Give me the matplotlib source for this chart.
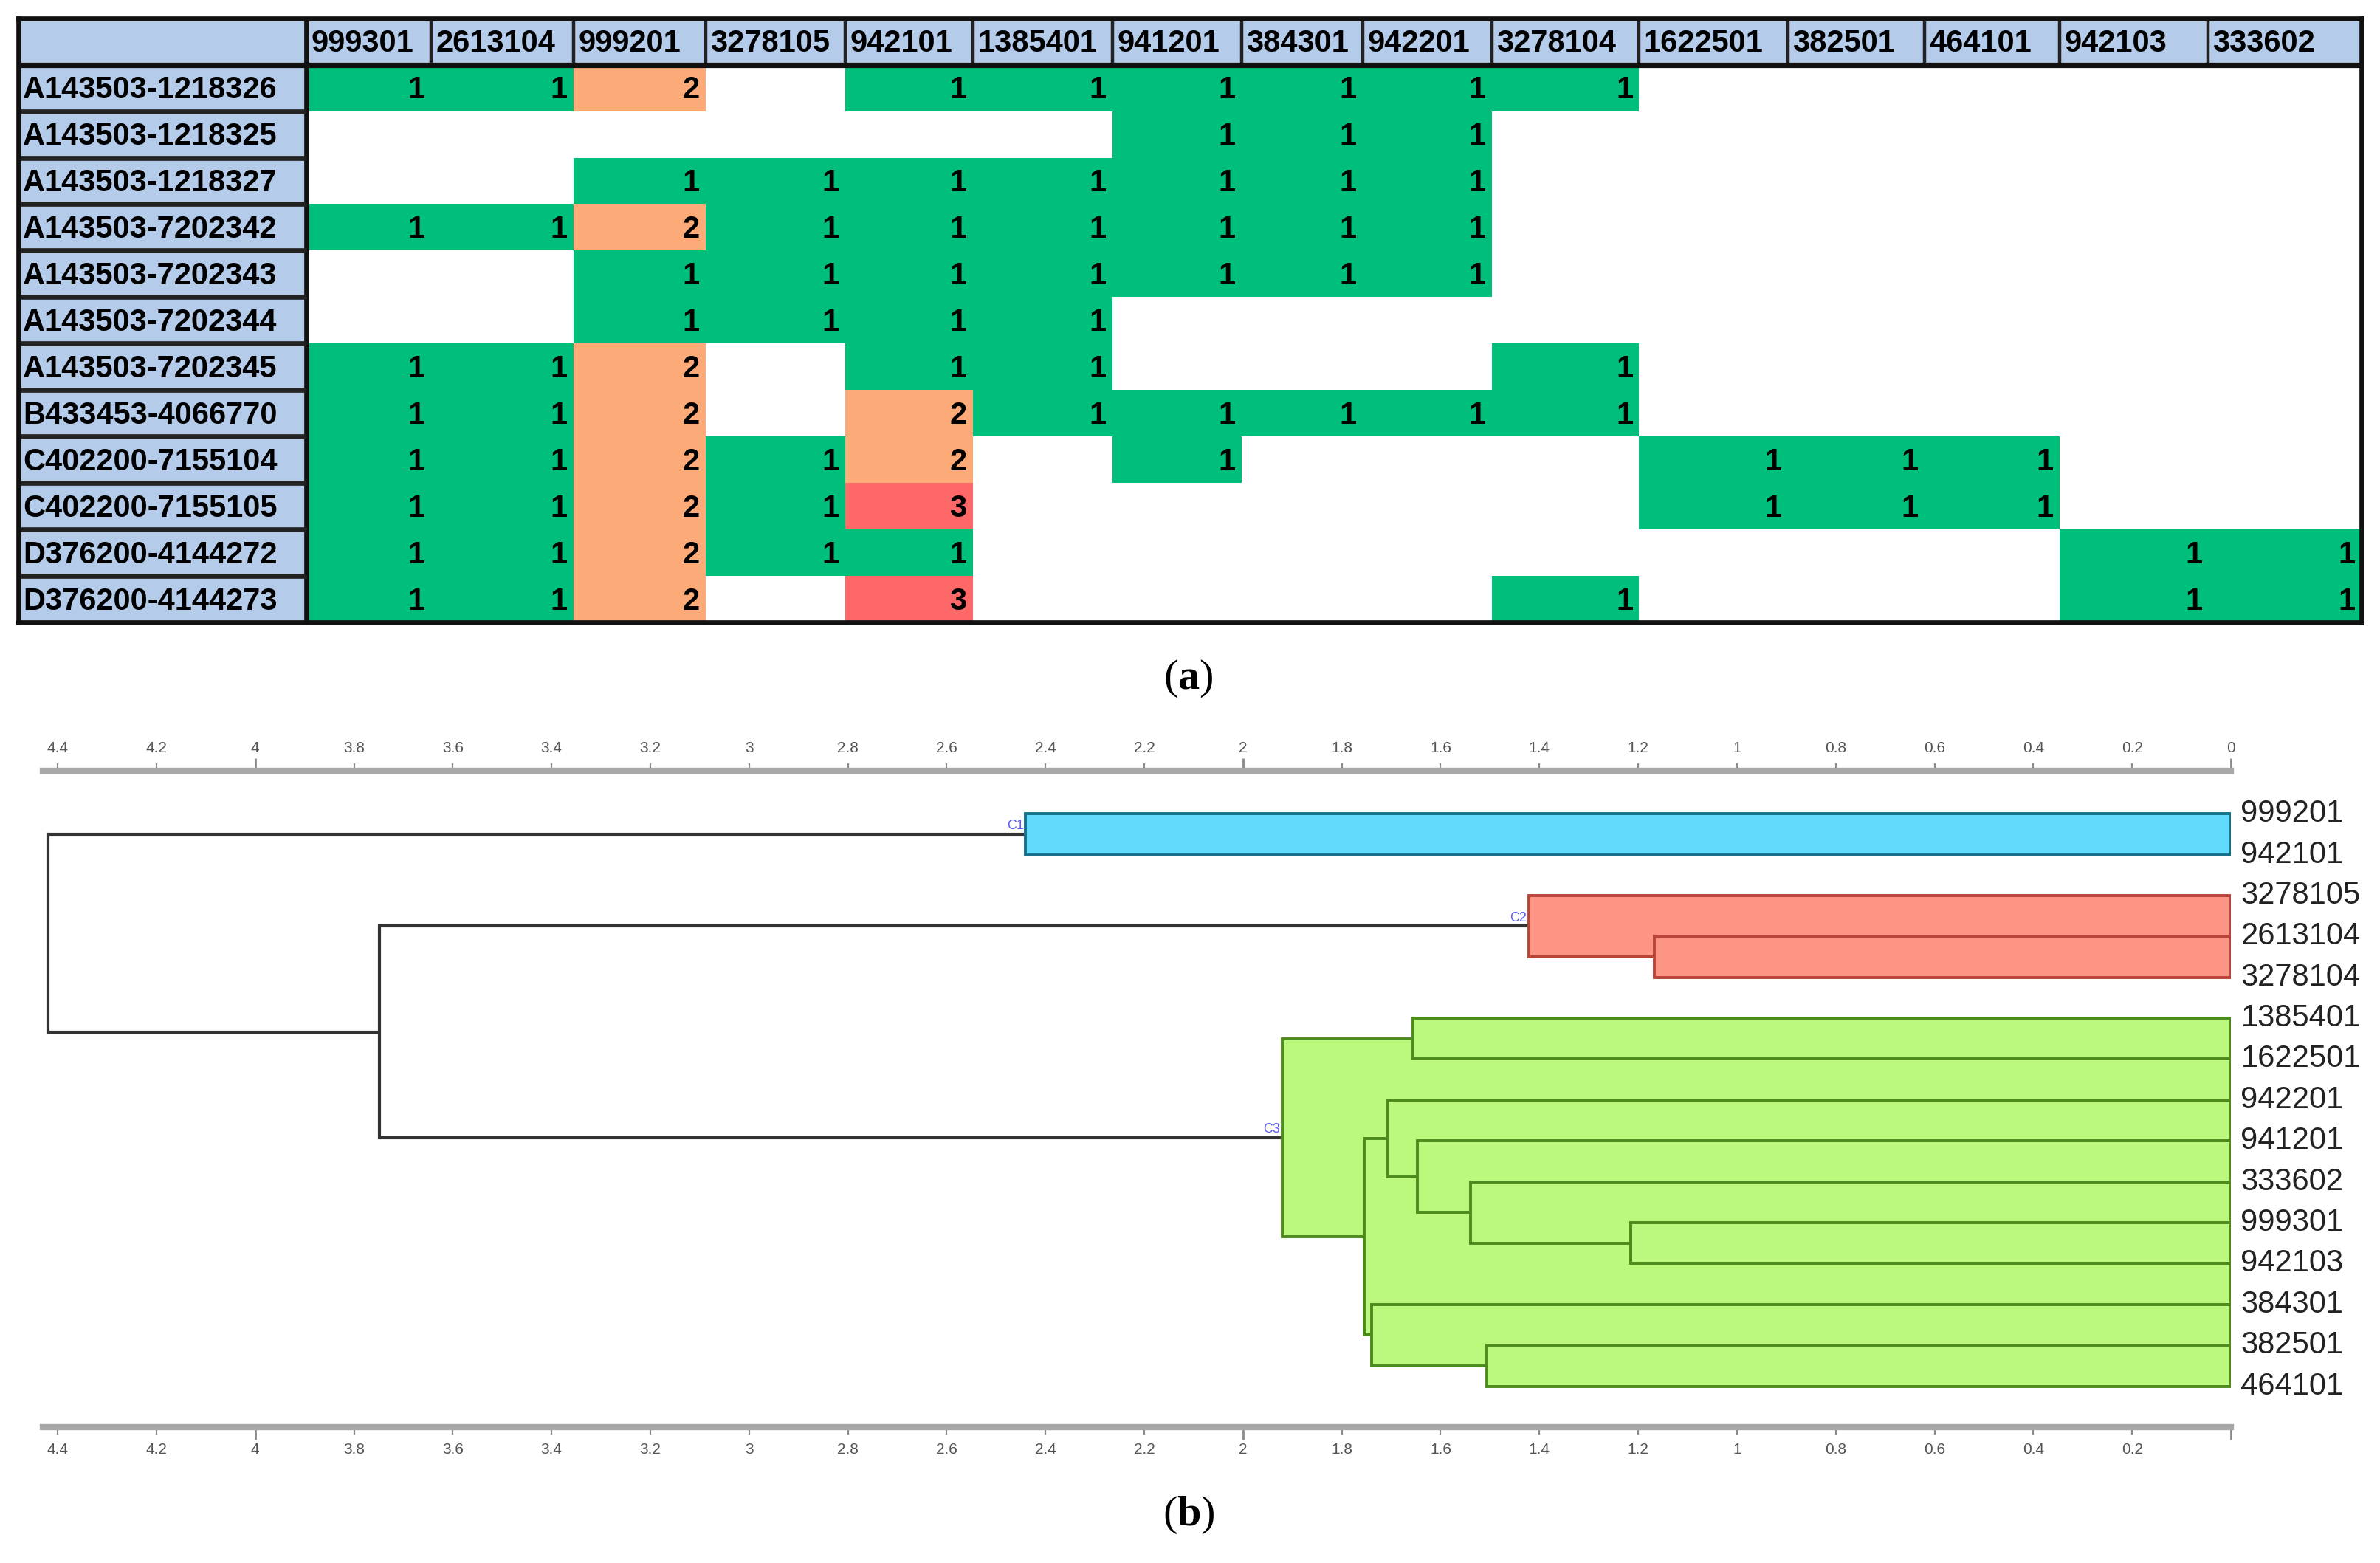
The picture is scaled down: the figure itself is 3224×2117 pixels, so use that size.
import numpy as np
import matplotlib
matplotlib.use('Agg')
import matplotlib.pyplot as plt
from matplotlib.colors import ListedColormap, BoundaryNorm
from matplotlib.patches import Rectangle

plt.rcParams['font.family'] = ['Liberation Sans', 'DejaVu Sans']
plt.rcParams['mathtext.fontset'] = 'custom'
plt.rcParams['mathtext.rm'] = 'Liberation Serif'
plt.rcParams['mathtext.bf'] = 'Liberation Serif:bold'

# ---- datos de la tabla (a) ----
columnas = ['999301', '2613104', '999201', '3278105', '942101', '1385401', '941201',
            '384301', '942201', '3278104', '1622501', '382501', '464101', '942103', '333602']
filas = ['A143503-1218326', 'A143503-1218325', 'A143503-1218327', 'A143503-7202342',
         'A143503-7202343', 'A143503-7202344', 'A143503-7202345', 'B433453-4066770',
         'C402200-7155104', 'C402200-7155105', 'D376200-4144272', 'D376200-4144273']
# 0 = celda vacia
valores = np.array([
    [1, 1, 2, 0, 1, 1, 1, 1, 1, 1, 0, 0, 0, 0, 0],
    [0, 0, 0, 0, 0, 0, 1, 1, 1, 0, 0, 0, 0, 0, 0],
    [0, 0, 1, 1, 1, 1, 1, 1, 1, 0, 0, 0, 0, 0, 0],
    [1, 1, 2, 1, 1, 1, 1, 1, 1, 0, 0, 0, 0, 0, 0],
    [0, 0, 1, 1, 1, 1, 1, 1, 1, 0, 0, 0, 0, 0, 0],
    [0, 0, 1, 1, 1, 1, 0, 0, 0, 0, 0, 0, 0, 0, 0],
    [1, 1, 2, 0, 1, 1, 0, 0, 0, 1, 0, 0, 0, 0, 0],
    [1, 1, 2, 0, 2, 1, 1, 1, 1, 1, 0, 0, 0, 0, 0],
    [1, 1, 2, 1, 2, 0, 1, 0, 0, 0, 1, 1, 1, 0, 0],
    [1, 1, 2, 1, 3, 0, 0, 0, 0, 0, 1, 1, 1, 0, 0],
    [1, 1, 2, 1, 1, 0, 0, 0, 0, 0, 0, 0, 0, 1, 1],
    [1, 1, 2, 0, 3, 0, 0, 0, 0, 1, 0, 0, 0, 1, 1],
])

# ---- datos del dendrograma (b) ----
hojas = ['999201', '942101', '3278105', '2613104', '3278104', '1385401', '1622501',
         '942201', '941201', '333602', '999301', '942103', '384301', '382501', '464101']
# (hijo_a, hijo_b, distancia, cluster); hijos: nombre de hoja o 'n<k>' (union previa)
uniones = [
    ('999201', '942101', 2.44, 'C1'),    # n0
    ('2613104', '3278104', 1.167, 'C2'),  # n1
    ('3278105', 'n1', 1.422, 'C2'),       # n2
    ('1385401', '1622501', 1.656, 'C3'),  # n3
    ('999301', '942103', 1.215, 'C3'),    # n4
    ('333602', 'n4', 1.539, 'C3'),        # n5
    ('941201', 'n5', 1.647, 'C3'),        # n6
    ('942201', 'n6', 1.708, 'C3'),        # n7
    ('382501', '464101', 1.506, 'C3'),    # n8
    ('384301', 'n8', 1.739, 'C3'),        # n9
    ('n7', 'n9', 1.754, 'C3'),            # n10
    ('n3', 'n10', 1.921, 'C3'),           # n11
    ('n2', 'n11', 3.748, None),           # n12
    ('n0', 'n12', 4.42, None),            # n13
]
etiquetas_cluster = {'C1': 0, 'C2': 2, 'C3': 11}  # union donde se pone la etiqueta

# ---- estilos ----
col_w = [190, 82, 94, 87, 92, 84, 92, 85, 80, 85, 97, 98, 90, 89, 98, 101]
verde, naranja, rojo, azul_cab = '#00bf7a', '#fcab78', '#ff6868', '#b4cbea'
relleno = {'C1': '#62dafc', 'C2': '#fd9585', 'C3': '#bdf87e'}
borde = {'C1': '#17708a', 'C2': '#b8443a', 'C3': '#4c8a1c'}

W, H = 3224, 2117
fig = plt.figure(figsize=(W / 200, H / 200), dpi=200)

# ================= (a) tabla =================
ax = fig.add_axes([24.7 / W, 1 - 843 / H, (3199 - 24.7) / W, (843 - 24.7) / H])
bordes_x = np.concatenate([[0], np.cumsum(col_w)])
ax.axhspan(0, 1, color=azul_cab, zorder=0)
ax.axvspan(0, col_w[0], color=azul_cab, zorder=0)
cmap = ListedColormap(['white', verde, naranja, rojo])
norm = BoundaryNorm([-0.5, 0.5, 1.5, 2.5, 3.5], cmap.N)
ax.pcolormesh(bordes_x[1:], np.arange(1, len(filas) + 2), valores, cmap=cmap, norm=norm, zorder=1)

tam = 15
for j, c in enumerate(columnas):
    ax.text(bordes_x[j + 1] + 3, 0.55, c, ha='left', va='center', fontsize=tam,
            fontweight='bold', zorder=3)
for i, f in enumerate(filas):
    ax.text(3, i + 1.55, f, ha='left', va='center', fontsize=tam, fontweight='bold', zorder=3)
    for j in range(len(columnas)):
        if valores[i, j] > 0:
            ax.text(bordes_x[j + 2] - 4, i + 1.55, str(valores[i, j]), ha='right', va='center',
                    fontsize=tam, fontweight='bold', zorder=3)

ax.vlines(bordes_x[1:-1], 0, 1, color='#222222', lw=1.6, zorder=2)
ax.vlines(bordes_x[1], 0, len(filas) + 1, color='#111111', lw=2.4, zorder=2)
ax.hlines(np.arange(1, len(filas) + 1), 0, col_w[0], color='#222222', lw=2.4, zorder=2)
ax.hlines(1, 0, bordes_x[-1], color='#111111', lw=2.6, zorder=2)
ax.set_xlim(0, bordes_x[-1])
ax.set_ylim(len(filas) + 1, 0)
ax.set_xticks([])
ax.set_yticks([])
for s in ax.spines.values():
    s.set_linewidth(2.4)
    s.set_color('#111111')

fig.text(0.4994, 1 - 919 / H, r'($\mathbf{a}$)', ha='center', va='center', fontsize=21,
         family='Liberation Serif')

# ================= (b) dendrograma =================
ad = fig.add_axes([58 / W, 1 - 1933 / H, (3022 - 58) / W, (1933 - 1044) / H])
pos_y = {h: i for i, h in enumerate(hojas)}
alt = {h: 0.0 for h in hojas}
for k, (a, b, d, cl) in enumerate(uniones):
    nombre = 'n%d' % k
    pos_y[nombre] = (pos_y[a] + pos_y[b]) / 2
    alt[nombre] = d

# de arriba hacia abajo para que los hijos queden encima
for k in range(len(uniones) - 1, -1, -1):
    a, b, d, cl = uniones[k]
    ya, yb = pos_y[a], pos_y[b]
    if cl is None:
        for hijo in (a, b):
            ad.plot([alt[hijo], d], [pos_y[hijo], pos_y[hijo]], color='#333333', lw=1.5,
                    solid_capstyle='butt', zorder=2)
        ad.plot([d, d], [ya, yb], color='#333333', lw=1.5, zorder=2)
    else:
        ad.add_patch(Rectangle((0, min(ya, yb)), d, abs(yb - ya), facecolor=relleno[cl],
                               edgecolor=borde[cl], lw=1.4, zorder=3 + (len(uniones) - k) * 0.01))

for cl, k in etiquetas_cluster.items():
    a, b, d, _ = uniones[k]
    ad.text(d + 0.004, pos_y['n%d' % k] - 0.05, cl, ha='right', va='bottom', fontsize=6.5,
            color='#5a5aff', zorder=5)

for h in hojas:
    ad.text(-0.02, pos_y[h], h, ha='left', va='center', fontsize=15, color='#222222',
            clip_on=False)

ad.set_xlim(4.43, 0)
ad.set_ylim(len(hojas) - 1 + 1.0, -1.05)
mayores = [0, 2, 4]
menores = [round(v, 1) for v in np.arange(0.2, 4.41, 0.2) if round(v, 1) not in (2.0, 4.0)]
fmt = lambda v: ('%g' % v)
ad.set_xticks(mayores)
ad.set_xticklabels([fmt(v) for v in mayores])
ad.set_xticks(menores, minor=True)
ad.set_xticklabels([fmt(v) for v in menores], minor=True)
ad.set_yticks([])
ad.tick_params(axis='x', which='both', top=True, bottom=True, labeltop=True, labelbottom=True,
               colors='#8a8a8a', labelcolor='#555555', labelsize=7.5)
ad.tick_params(axis='x', which='major', length=6, width=1.0, pad=1.5)
ad.tick_params(axis='x', which='minor', length=3.5, width=0.8, pad=4)
ad.xaxis.get_major_ticks()[0].label1.set_visible(False)
for lado in ('left', 'right'):
    ad.spines[lado].set_visible(False)
for lado in ('top', 'bottom'):
    ad.spines[lado].set_color('#a8a8a8')
    ad.spines[lado].set_linewidth(3)

fig.text(0.4994, 1 - 2052 / H, r'($\mathbf{b}$)', ha='center', va='center', fontsize=21,
         family='Liberation Serif')

fig.savefig('out.png', dpi=200, facecolor='white')
